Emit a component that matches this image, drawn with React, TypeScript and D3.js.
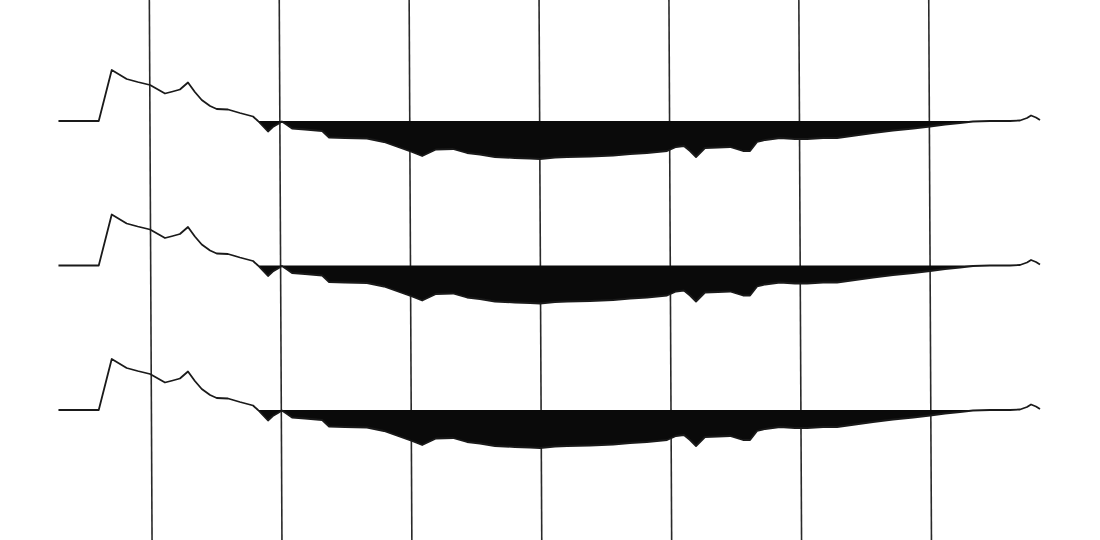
import { useEffect, useRef } from 'react';
import * as d3 from 'd3';

// sample times (ms) and amplitudes (normalised) read from the record
const sampleTimes = [
  29, 60, 70, 81.5, 90, 99.5, 111, 117, 122.5, 128.7, 134, 139.3, 145.7, 150.8,
  159.5, 168.7, 178.8, 182.6, 190.3, 194, 198, 201, 205, 208.8, 218.8, 232,
  237.3, 249.6, 266.5, 279.6, 290.4, 301.2, 309, 319.6, 332.7, 343.5, 353.5,
  365, 380.4, 392, 399.7, 411.2, 420.5, 438.2, 456, 469, 482, 497.5, 504.4,
  510.5, 515.2, 519.8, 526.7, 536.7, 546, 556, 561.4, 566.8, 573, 584.5, 596,
  605.3, 617.6, 628.4, 642.2, 656, 671.4, 687, 700, 711.5, 723, 733, 746,
  761.5, 769.2, 774.6, 777.7, 781.5, 784.6,
];
const amplitudes = [
  0, 0, 1.02, 0.84, 0.78, 0.72, 0.55, 0.59, 0.63, 0.77, 0.58, 0.42, 0.3, 0.24,
  0.23, 0.16, 0.09, 0, -0.21, -0.12, -0.06, -0.01, -0.08, -0.15, -0.17, -0.2,
  -0.33, -0.34, -0.35, -0.42, -0.52, -0.62, -0.7, -0.57, -0.56, -0.64, -0.67,
  -0.72, -0.74, -0.75, -0.76, -0.73, -0.72, -0.71, -0.69, -0.66, -0.64, -0.6,
  -0.52, -0.5, -0.6, -0.72, -0.54, -0.53, -0.52, -0.6, -0.6, -0.42, -0.38,
  -0.34, -0.36, -0.36, -0.34, -0.34, -0.29, -0.24, -0.19, -0.15, -0.11, -0.07,
  -0.04, -0.01, 0, 0, 0.01, 0.06, 0.11, 0.07, 0.02,
];
const traceNames = ['trace 1', 'trace 2', 'trace 3'];
const gridTimes = [100, 200, 300, 400, 500, 600, 700];

const WIDTH = 1100;
const HEIGHT = 540;

export default function App() {
  const svgRef = useRef<SVGSVGElement>(null);

  useEffect(() => {
    document.body.style.margin = '0';
    if (!svgRef.current) return;

    const svg = d3.select(svgRef.current);
    svg.selectAll('*').remove();

    const xScale = d3.scaleLinear().domain([0, 800]).range([20.8, 1060]);
    const baseScale = d3.scalePoint<string>().domain(traceNames).range([121, 410]);
    // amplitude -> pixel offset from the trace baseline
    const ampScale = d3.scaleLinear().domain([-1, 1]).range([50, -50]);

    svg.append('rect').attr('width', WIDTH).attr('height', HEIGHT).attr('fill', '#ffffff');

    // timing lines (slightly skewed like the scanned record)
    const skew = 1.35;
    svg
      .append('g')
      .selectAll('line')
      .data(gridTimes)
      .enter()
      .append('line')
      .attr('x1', (d) => xScale(d) - skew)
      .attr('x2', (d) => xScale(d) + skew)
      .attr('y1', 0)
      .attr('y2', HEIGHT)
      .attr('stroke', '#2a2a2a')
      .attr('stroke-width', 1.6);

    const points = sampleTimes.map((t, i) => ({ t, a: amplitudes[i] }));

    traceNames.forEach((name) => {
      const base = baseScale(name) as number;
      const g = svg.append('g').attr('transform', `translate(0,${base})`);

      // negative lobes filled black
      const area = d3
        .area<{ t: number; a: number }>()
        .x((d) => xScale(d.t))
        .y0(0)
        .y1((d) => ampScale(Math.min(0, d.a)));

      g.append('path')
        .datum(points)
        .attr('d', area)
        .attr('fill', '#0a0a0a');

      const line = d3
        .line<{ t: number; a: number }>()
        .x((d) => xScale(d.t))
        .y((d) => ampScale(d.a));

      g.append('path')
        .datum(points)
        .attr('d', line)
        .attr('fill', 'none')
        .attr('stroke', '#1a1a1a')
        .attr('stroke-width', 1.8)
        .attr('stroke-linejoin', 'round');
    });
  }, []);

  return <svg ref={svgRef} width={WIDTH} height={HEIGHT} style={{ display: 'block' }}></svg>;
}
